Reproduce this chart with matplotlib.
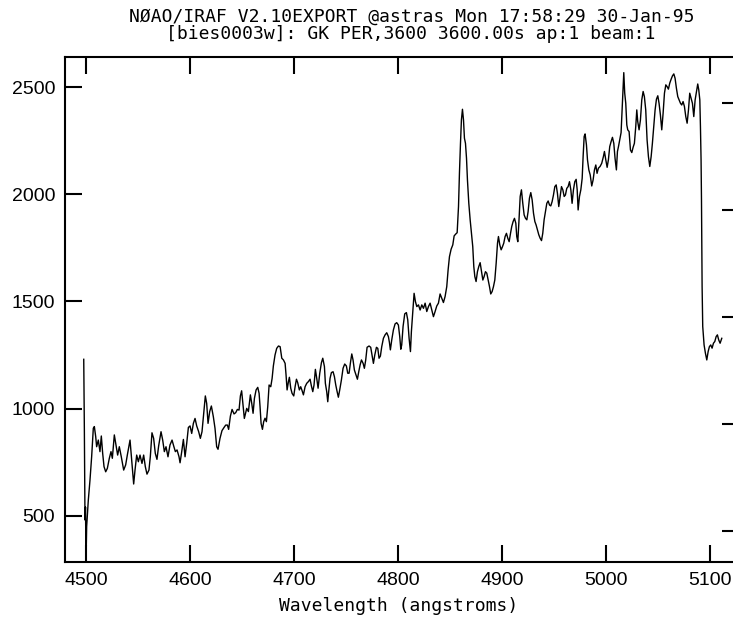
import matplotlib
matplotlib.use('Agg')
import matplotlib.pyplot as plt

# IRAF splot of GK Per, flux vs wavelength
wavelength = [
    4497.8, 4498.4, 4499.0, 4499.5, 4500.0, 4500.6, 4502.2, 4503.8, 4505.4, 4507.0,
    4508.0, 4509.3, 4510.2, 4511.8, 4513.4, 4514.7, 4516.0, 4517.3, 4518.9, 4520.5,
    4522.4, 4524.0, 4525.3, 4527.2, 4528.8, 4530.4, 4532.0, 4533.9, 4536.2, 4538.1,
    4539.7, 4542.3, 4543.9, 4545.2, 4545.8, 4547.1, 4548.7, 4550.3, 4551.9, 4553.8,
    4555.4, 4557.0, 4558.6, 4560.5, 4561.8, 4563.4, 4565.0, 4566.6, 4568.2, 4569.8,
    4572.1, 4573.7, 4575.3, 4576.9, 4578.8, 4580.7, 4582.7, 4584.3, 4585.9, 4587.5,
    4589.4, 4590.4, 4592.0, 4593.6, 4595.2, 4596.8, 4598.4, 4600.0, 4601.6, 4603.2,
    4604.8, 4606.4, 4608.3, 4609.9, 4611.5, 4613.1, 4614.7, 4616.0, 4617.3, 4618.9,
    4620.5, 4622.4, 4624.0, 4625.6, 4626.9, 4628.8, 4630.7, 4632.7, 4634.3, 4635.9,
    4637.1, 4638.8, 4640.4, 4642.3, 4643.9, 4645.5, 4647.1, 4648.4, 4649.6, 4650.9,
    4652.2, 4654.5, 4656.1, 4658.0, 4659.3, 4660.6, 4661.9, 4663.5, 4665.1, 4666.4,
    4667.3, 4668.3, 4669.6, 4670.8, 4672.1, 4673.4, 4674.7, 4676.0, 4677.6, 4678.9,
    4680.1, 4681.7, 4683.3, 4685.0, 4686.6, 4688.2, 4689.8, 4691.4, 4692.3, 4693.3,
    4694.6, 4695.5, 4696.8, 4698.1, 4699.7, 4701.0, 4702.3, 4703.5, 4705.1, 4706.4,
    4707.7, 4709.0, 4710.6, 4712.2, 4713.8, 4715.4, 4716.7, 4718.0, 4719.2, 4720.5,
    4721.8, 4723.1, 4724.7, 4726.3, 4727.6, 4729.2, 4730.1, 4731.4, 4732.4, 4733.3,
    4734.6, 4735.9, 4737.5, 4738.8, 4740.1, 4741.4, 4742.6, 4743.9, 4745.5, 4747.1,
    4748.7, 4750.3, 4751.6, 4752.9, 4754.2, 4755.5, 4756.7, 4758.0, 4759.6, 4760.9,
    4762.2, 4763.5, 4764.8, 4766.4, 4767.6, 4768.9, 4770.2, 4772.1, 4773.7, 4775.0,
    4776.3, 4777.6, 4779.2, 4780.5, 4781.7, 4783.0, 4784.3, 4785.9, 4787.5, 4789.1,
    4790.7, 4791.7, 4792.6, 4793.9, 4795.5, 4797.1, 4798.7, 4800.3, 4801.6, 4802.6,
    4803.5, 4804.8, 4806.4, 4808.0, 4809.3, 4810.6, 4811.9, 4812.8, 4814.1, 4815.4,
    4816.7, 4818.0, 4819.6, 4821.2, 4822.8, 4824.4, 4826.0, 4827.6, 4829.2, 4830.8,
    4832.4, 4834.0, 4835.6, 4837.2, 4838.8, 4840.4, 4842.0, 4843.6, 4845.2, 4846.8,
    4848.1, 4849.4, 4851.0, 4852.6, 4853.9, 4855.5, 4856.8, 4858.1, 4859.0, 4860.0,
    4860.9, 4861.9, 4862.9, 4863.8, 4864.8, 4865.8, 4866.7, 4868.0, 4869.3, 4870.6,
    4871.8, 4872.8, 4873.8, 4875.0, 4876.3, 4877.6, 4878.9, 4880.2, 4881.5, 4882.7,
    4884.0, 4885.3, 4886.6, 4887.9, 4889.1, 4890.4, 4891.7, 4893.0, 4894.3, 4895.6,
    4896.5, 4897.8, 4899.1, 4900.4, 4901.6, 4902.9, 4904.2, 4905.5, 4906.8, 4908.1,
    4909.3, 4910.6, 4911.9, 4913.2, 4914.1, 4915.1, 4916.1, 4917.4, 4918.6, 4919.9,
    4921.2, 4922.5, 4923.8, 4925.0, 4926.3, 4927.6, 4928.9, 4930.2, 4931.5, 4932.7,
    4934.0, 4935.3, 4936.6, 4937.9, 4939.1, 4940.4, 4941.7, 4943.0, 4944.3, 4945.6,
    4946.8, 4948.1, 4949.4, 4950.7, 4952.0, 4953.2, 4954.5, 4955.8, 4957.1, 4958.4,
    4959.7, 4960.9, 4962.2, 4963.5, 4964.8, 4966.1, 4967.3, 4968.6, 4969.9, 4971.2,
    4972.2, 4973.1, 4974.4, 4975.7, 4977.0, 4977.9, 4978.9, 4979.8, 4981.1, 4982.1,
    4983.4, 4984.7, 4986.2, 4987.5, 4988.8, 4990.1, 4991.3, 4992.6, 4994.2, 4995.8,
    4997.4, 4998.4, 4999.7, 5001.0, 5002.2, 5003.5, 5004.8, 5006.1, 5007.4, 5008.6,
    5009.9, 5010.9, 5011.9, 5013.1, 5014.4, 5015.7, 5017.0, 5017.9, 5018.9, 5019.9,
    5020.8, 5022.1, 5023.4, 5024.7, 5026.0, 5027.2, 5028.5, 5029.5, 5030.4, 5031.7,
    5033.0, 5034.3, 5035.6, 5036.8, 5038.1, 5039.4, 5040.7, 5042.0, 5043.3, 5044.5,
    5045.8, 5047.1, 5048.4, 5049.7, 5050.9, 5052.2, 5053.5, 5054.8, 5056.1, 5057.4,
    5058.6, 5059.9, 5061.2, 5062.5, 5063.8, 5065.1, 5066.3, 5067.6, 5068.9, 5070.2,
    5071.5, 5072.7, 5074.0, 5075.3, 5076.6, 5077.9, 5079.2, 5080.4, 5081.7, 5083.0,
    5084.3, 5085.6, 5086.9, 5088.1, 5089.1, 5090.1, 5090.7, 5091.3, 5091.7, 5092.0,
    5092.3, 5092.9, 5094.2, 5095.5, 5096.8, 5098.1, 5099.3, 5100.6, 5101.9, 5103.2,
    5104.5, 5105.8, 5107.0, 5108.3, 5109.6, 5111.2,
]
flux = [
    1230, 900, 480, 540, 280, 449, 573, 666, 775, 908,
    916, 869, 822, 853, 799, 872, 791, 729, 705, 721,
    768, 799, 768, 877, 830, 783, 822, 775, 713, 737,
    783, 853, 760, 690, 648, 713, 783, 752, 783, 744,
    783, 729, 694, 713, 775, 887, 861, 791, 763, 825,
    892, 853, 799, 822, 775, 830, 853, 825, 799, 807,
    775, 747, 799, 856, 775, 838, 912, 919, 884, 931,
    954, 919, 892, 861, 892, 978, 1059, 1024, 931, 986,
    1012, 962, 908, 822, 810, 861, 897, 912, 923, 923,
    903, 965, 996, 975, 981, 996, 993, 1059, 1083, 1017,
    954, 1001, 986, 1064, 1025, 978, 1048, 1087, 1099, 1071,
    1009, 931, 903, 939, 955, 939, 1009, 1110, 1102, 1141,
    1199, 1250, 1281, 1292, 1289, 1235, 1227, 1211, 1157, 1087,
    1126, 1146, 1095, 1071, 1059, 1102, 1137, 1121, 1087, 1102,
    1084, 1064, 1102, 1118, 1126, 1137, 1105, 1079, 1110, 1183,
    1141, 1095, 1165, 1214, 1235, 1196, 1118, 1079, 1032, 1079,
    1141, 1168, 1172, 1149, 1110, 1079, 1053, 1087, 1133, 1188,
    1208, 1199, 1165, 1165, 1214, 1255, 1227, 1180, 1157, 1137,
    1172, 1204, 1227, 1211, 1188, 1227, 1286, 1292, 1286, 1250,
    1211, 1250, 1286, 1281, 1235, 1245, 1289, 1328, 1344, 1354,
    1336, 1308, 1274, 1320, 1367, 1395, 1401, 1390, 1336, 1277,
    1297, 1383, 1442, 1448, 1414, 1328, 1266, 1359, 1445, 1538,
    1499, 1476, 1484, 1460, 1484, 1468, 1492, 1453, 1476, 1492,
    1460, 1429, 1453, 1479, 1492, 1535, 1515, 1495, 1523, 1569,
    1647, 1709, 1744, 1764, 1806, 1815, 1821, 1943, 2098, 2238,
    2347, 2397, 2347, 2262, 2238, 2168, 2067, 1958, 1881, 1818,
    1756, 1663, 1616, 1593, 1639, 1663, 1681, 1639, 1600, 1616,
    1639, 1632, 1600, 1569, 1535, 1546, 1569, 1600, 1678, 1772,
    1803, 1764, 1741, 1756, 1772, 1803, 1818, 1795, 1779, 1818,
    1850, 1873, 1888, 1865, 1803, 1779, 1865, 1990, 2021, 1958,
    1904, 1888, 1881, 1919, 1982, 2008, 1974, 1912, 1873, 1857,
    1834, 1811, 1795, 1784, 1818, 1881, 1919, 1958, 1969, 1950,
    1946, 1966, 1997, 2036, 2044, 2005, 1943, 1990, 2036, 2021,
    1990, 1997, 2028, 2036, 2059, 2021, 1958, 2021, 2059, 2070,
    2021, 1927, 1990, 2021, 2075, 2176, 2270, 2282, 2231, 2161,
    2114, 2091, 2039, 2067, 2114, 2137, 2098, 2122, 2130, 2145,
    2176, 2200, 2161, 2126, 2161, 2223, 2246, 2266, 2238, 2168,
    2114, 2200, 2223, 2254, 2288, 2425, 2568, 2472, 2425, 2324,
    2301, 2293, 2207, 2195, 2220, 2238, 2316, 2394, 2340, 2301,
    2347, 2441, 2480, 2456, 2394, 2254, 2176, 2130, 2176, 2238,
    2316, 2394, 2444, 2460, 2425, 2371, 2301, 2378, 2472, 2511,
    2503, 2491, 2519, 2537, 2553, 2562, 2542, 2495, 2456, 2441,
    2425, 2417, 2433, 2410, 2363, 2332, 2394, 2472, 2449, 2425,
    2363, 2441, 2480, 2515, 2487, 2441, 2316, 2161, 1974, 1772,
    1569, 1383, 1297, 1258, 1227, 1266, 1289, 1297, 1282, 1305,
    1313, 1336, 1344, 1320, 1305, 1328,
]
x_ticks = [4500, 4600, 4700, 4800, 4900, 5000, 5100]
y_ticks = [500, 1000, 1500, 2000, 2500]

title_lines = ['NØAO/IRAF V2.10EXPORT @astras Mon 17:58:29 30-Jan-95',
               '[bies0003w]: GK PER,3600 3600.00s ap:1 beam:1']

plt.rcParams.update({'font.family': ['Liberation Sans', 'DejaVu Sans'],
                     'font.size': 14})

fig = plt.figure(figsize=(7.33, 6.27), dpi=100)
ax = fig.add_axes([0.0887, 0.1037, 0.9113, 0.8054])

ax.plot(wavelength, flux, color='black', linewidth=1.0)

ax.set_xlim(4479.8, 5122)
ax.set_ylim(284, 2641)
ax.set_xticks(x_ticks)
ax.set_yticks(y_ticks)
ax.tick_params(axis='both', direction='in', length=12, width=1.5, pad=7,
               labelsize=14, colors='black')
ax.tick_params(axis='x', top=True)
ax.tick_params(axis='y', right=False)
for side in ['left', 'top', 'bottom']:
    ax.spines[side].set_linewidth(1.5)
ax.spines['right'].set_visible(False)

# the right-hand ticks in the scan sit a little lower than the left ones
right = ax.secondary_yaxis('right', functions=(lambda y: y + 72, lambda y: y - 72))
right.set_yticks(y_ticks)
right.tick_params(direction='in', length=8, width=1.5, labelright=False)
right.spines['right'].set_visible(False)

ax.set_xlabel('Wavelength (angstroms)', family='DejaVu Sans Mono', fontsize=13,
              labelpad=6)

fig.text(0.562, 0.974, title_lines[0], family='DejaVu Sans Mono', fontsize=13,
         ha='center', va='center')
fig.text(0.560, 0.946, title_lines[1], family='DejaVu Sans Mono', fontsize=13,
         ha='center', va='center')

fig.savefig('out.png', dpi=100)
